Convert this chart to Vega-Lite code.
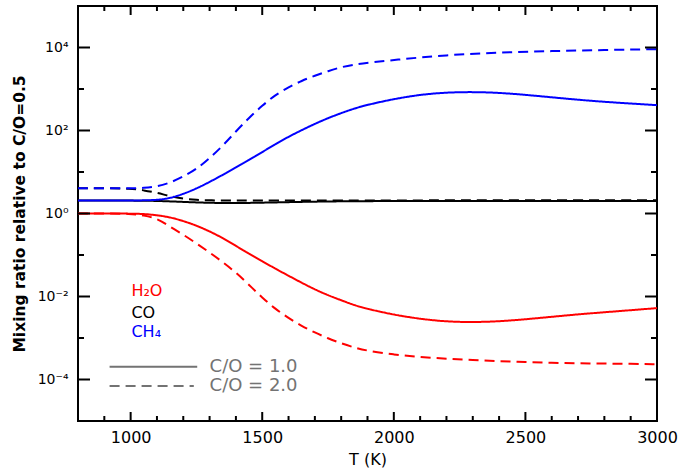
{
  "$schema": "https://vega.github.io/schema/vega-lite/v6.json",
  "width": 579,
  "height": 415,
  "autosize": {"type": "none"},
  "padding": {"left": 78, "top": 6, "right": 23, "bottom": 49},
  "background": "white",
  "config": {
    "view": {"stroke": "black", "strokeWidth": 2},
    "axis": {"grid": false, "domain": false, "ticks": false, "labelColor": "black", "titleColor": "black", "labelFont": "DejaVu Sans", "titleFont": "DejaVu Sans"}
  },
  "datasets": {
    "curves": [
      {"T": 800, "v": 2.05, "sp": "CO", "co": "1.0"},
      {"T": 900, "v": 2.05, "sp": "CO", "co": "1.0"},
      {"T": 1000, "v": 2.05, "sp": "CO", "co": "1.0"},
      {"T": 1100, "v": 2.02, "sp": "CO", "co": "1.0"},
      {"T": 1200, "v": 1.9, "sp": "CO", "co": "1.0"},
      {"T": 1300, "v": 1.8, "sp": "CO", "co": "1.0"},
      {"T": 1400, "v": 1.78, "sp": "CO", "co": "1.0"},
      {"T": 1500, "v": 1.82, "sp": "CO", "co": "1.0"},
      {"T": 1600, "v": 1.88, "sp": "CO", "co": "1.0"},
      {"T": 1700, "v": 1.93, "sp": "CO", "co": "1.0"},
      {"T": 1800, "v": 1.97, "sp": "CO", "co": "1.0"},
      {"T": 2000, "v": 2.0, "sp": "CO", "co": "1.0"},
      {"T": 2200, "v": 2.0, "sp": "CO", "co": "1.0"},
      {"T": 2500, "v": 2.0, "sp": "CO", "co": "1.0"},
      {"T": 2800, "v": 2.0, "sp": "CO", "co": "1.0"},
      {"T": 3000, "v": 2.0, "sp": "CO", "co": "1.0"},

      {"T": 800, "v": 4.05, "sp": "CO", "co": "2.0"},
      {"T": 900, "v": 4.05, "sp": "CO", "co": "2.0"},
      {"T": 1000, "v": 4.0, "sp": "CO", "co": "2.0"},
      {"T": 1050, "v": 3.63, "sp": "CO", "co": "2.0"},
      {"T": 1100, "v": 3.16, "sp": "CO", "co": "2.0"},
      {"T": 1150, "v": 2.6, "sp": "CO", "co": "2.0"},
      {"T": 1200, "v": 2.25, "sp": "CO", "co": "2.0"},
      {"T": 1250, "v": 2.12, "sp": "CO", "co": "2.0"},
      {"T": 1300, "v": 2.07, "sp": "CO", "co": "2.0"},
      {"T": 1400, "v": 2.05, "sp": "CO", "co": "2.0"},
      {"T": 1600, "v": 2.05, "sp": "CO", "co": "2.0"},
      {"T": 2000, "v": 2.07, "sp": "CO", "co": "2.0"},
      {"T": 2500, "v": 2.08, "sp": "CO", "co": "2.0"},
      {"T": 3000, "v": 2.09, "sp": "CO", "co": "2.0"},

      {"T": 800, "v": 2.05, "sp": "CH4", "co": "1.0"},
      {"T": 900, "v": 2.05, "sp": "CH4", "co": "1.0"},
      {"T": 1000, "v": 2.05, "sp": "CH4", "co": "1.0"},
      {"T": 1100, "v": 2.09, "sp": "CH4", "co": "1.0"},
      {"T": 1150, "v": 2.34, "sp": "CH4", "co": "1.0"},
      {"T": 1200, "v": 2.95, "sp": "CH4", "co": "1.0"},
      {"T": 1250, "v": 3.98, "sp": "CH4", "co": "1.0"},
      {"T": 1300, "v": 5.75, "sp": "CH4", "co": "1.0"},
      {"T": 1350, "v": 8.51, "sp": "CH4", "co": "1.0"},
      {"T": 1400, "v": 12.9, "sp": "CH4", "co": "1.0"},
      {"T": 1450, "v": 19.5, "sp": "CH4", "co": "1.0"},
      {"T": 1500, "v": 30.2, "sp": "CH4", "co": "1.0"},
      {"T": 1550, "v": 46.8, "sp": "CH4", "co": "1.0"},
      {"T": 1600, "v": 70.8, "sp": "CH4", "co": "1.0"},
      {"T": 1650, "v": 102, "sp": "CH4", "co": "1.0"},
      {"T": 1700, "v": 145, "sp": "CH4", "co": "1.0"},
      {"T": 1750, "v": 199, "sp": "CH4", "co": "1.0"},
      {"T": 1800, "v": 263, "sp": "CH4", "co": "1.0"},
      {"T": 1850, "v": 339, "sp": "CH4", "co": "1.0"},
      {"T": 1900, "v": 417, "sp": "CH4", "co": "1.0"},
      {"T": 2000, "v": 575, "sp": "CH4", "co": "1.0"},
      {"T": 2100, "v": 731, "sp": "CH4", "co": "1.0"},
      {"T": 2200, "v": 827, "sp": "CH4", "co": "1.0"},
      {"T": 2300, "v": 851, "sp": "CH4", "co": "1.0"},
      {"T": 2400, "v": 813, "sp": "CH4", "co": "1.0"},
      {"T": 2500, "v": 724, "sp": "CH4", "co": "1.0"},
      {"T": 2600, "v": 631, "sp": "CH4", "co": "1.0"},
      {"T": 2700, "v": 550, "sp": "CH4", "co": "1.0"},
      {"T": 2800, "v": 490, "sp": "CH4", "co": "1.0"},
      {"T": 2900, "v": 447, "sp": "CH4", "co": "1.0"},
      {"T": 3000, "v": 407, "sp": "CH4", "co": "1.0"},

      {"T": 800, "v": 4.05, "sp": "CH4", "co": "2.0"},
      {"T": 900, "v": 4.05, "sp": "CH4", "co": "2.0"},
      {"T": 1000, "v": 4.05, "sp": "CH4", "co": "2.0"},
      {"T": 1050, "v": 4.12, "sp": "CH4", "co": "2.0"},
      {"T": 1100, "v": 4.42, "sp": "CH4", "co": "2.0"},
      {"T": 1150, "v": 5.5, "sp": "CH4", "co": "2.0"},
      {"T": 1200, "v": 7.76, "sp": "CH4", "co": "2.0"},
      {"T": 1250, "v": 11.7, "sp": "CH4", "co": "2.0"},
      {"T": 1300, "v": 21.4, "sp": "CH4", "co": "2.0"},
      {"T": 1350, "v": 42.7, "sp": "CH4", "co": "2.0"},
      {"T": 1400, "v": 95.5, "sp": "CH4", "co": "2.0"},
      {"T": 1450, "v": 204, "sp": "CH4", "co": "2.0"},
      {"T": 1500, "v": 398, "sp": "CH4", "co": "2.0"},
      {"T": 1550, "v": 724, "sp": "CH4", "co": "2.0"},
      {"T": 1600, "v": 1100, "sp": "CH4", "co": "2.0"},
      {"T": 1650, "v": 1585, "sp": "CH4", "co": "2.0"},
      {"T": 1700, "v": 2089, "sp": "CH4", "co": "2.0"},
      {"T": 1750, "v": 2692, "sp": "CH4", "co": "2.0"},
      {"T": 1800, "v": 3388, "sp": "CH4", "co": "2.0"},
      {"T": 1850, "v": 3890, "sp": "CH4", "co": "2.0"},
      {"T": 1900, "v": 4266, "sp": "CH4", "co": "2.0"},
      {"T": 2000, "v": 5012, "sp": "CH4", "co": "2.0"},
      {"T": 2200, "v": 6607, "sp": "CH4", "co": "2.0"},
      {"T": 2400, "v": 7586, "sp": "CH4", "co": "2.0"},
      {"T": 2600, "v": 8222, "sp": "CH4", "co": "2.0"},
      {"T": 2800, "v": 8710, "sp": "CH4", "co": "2.0"},
      {"T": 3000, "v": 9120, "sp": "CH4", "co": "2.0"},

      {"T": 800, "v": 1.0, "sp": "H2O", "co": "1.0"},
      {"T": 900, "v": 1.0, "sp": "H2O", "co": "1.0"},
      {"T": 1000, "v": 0.995, "sp": "H2O", "co": "1.0"},
      {"T": 1050, "v": 0.977, "sp": "H2O", "co": "1.0"},
      {"T": 1100, "v": 0.912, "sp": "H2O", "co": "1.0"},
      {"T": 1150, "v": 0.813, "sp": "H2O", "co": "1.0"},
      {"T": 1200, "v": 0.661, "sp": "H2O", "co": "1.0"},
      {"T": 1250, "v": 0.513, "sp": "H2O", "co": "1.0"},
      {"T": 1300, "v": 0.372, "sp": "H2O", "co": "1.0"},
      {"T": 1350, "v": 0.257, "sp": "H2O", "co": "1.0"},
      {"T": 1400, "v": 0.166, "sp": "H2O", "co": "1.0"},
      {"T": 1450, "v": 0.107, "sp": "H2O", "co": "1.0"},
      {"T": 1500, "v": 0.0708, "sp": "H2O", "co": "1.0"},
      {"T": 1550, "v": 0.0468, "sp": "H2O", "co": "1.0"},
      {"T": 1600, "v": 0.0316, "sp": "H2O", "co": "1.0"},
      {"T": 1650, "v": 0.0214, "sp": "H2O", "co": "1.0"},
      {"T": 1700, "v": 0.0148, "sp": "H2O", "co": "1.0"},
      {"T": 1750, "v": 0.0107, "sp": "H2O", "co": "1.0"},
      {"T": 1800, "v": 0.00813, "sp": "H2O", "co": "1.0"},
      {"T": 1850, "v": 0.00617, "sp": "H2O", "co": "1.0"},
      {"T": 1900, "v": 0.00501, "sp": "H2O", "co": "1.0"},
      {"T": 2000, "v": 0.00363, "sp": "H2O", "co": "1.0"},
      {"T": 2100, "v": 0.00288, "sp": "H2O", "co": "1.0"},
      {"T": 2200, "v": 0.00248, "sp": "H2O", "co": "1.0"},
      {"T": 2300, "v": 0.0024, "sp": "H2O", "co": "1.0"},
      {"T": 2400, "v": 0.00251, "sp": "H2O", "co": "1.0"},
      {"T": 2500, "v": 0.00282, "sp": "H2O", "co": "1.0"},
      {"T": 2600, "v": 0.00324, "sp": "H2O", "co": "1.0"},
      {"T": 2700, "v": 0.00372, "sp": "H2O", "co": "1.0"},
      {"T": 2800, "v": 0.00417, "sp": "H2O", "co": "1.0"},
      {"T": 2900, "v": 0.00468, "sp": "H2O", "co": "1.0"},
      {"T": 3000, "v": 0.00525, "sp": "H2O", "co": "1.0"},

      {"T": 800, "v": 1.0, "sp": "H2O", "co": "2.0"},
      {"T": 900, "v": 1.0, "sp": "H2O", "co": "2.0"},
      {"T": 1000, "v": 0.99, "sp": "H2O", "co": "2.0"},
      {"T": 1050, "v": 0.912, "sp": "H2O", "co": "2.0"},
      {"T": 1100, "v": 0.759, "sp": "H2O", "co": "2.0"},
      {"T": 1150, "v": 0.479, "sp": "H2O", "co": "2.0"},
      {"T": 1200, "v": 0.309, "sp": "H2O", "co": "2.0"},
      {"T": 1250, "v": 0.191, "sp": "H2O", "co": "2.0"},
      {"T": 1300, "v": 0.115, "sp": "H2O", "co": "2.0"},
      {"T": 1350, "v": 0.0676, "sp": "H2O", "co": "2.0"},
      {"T": 1400, "v": 0.038, "sp": "H2O", "co": "2.0"},
      {"T": 1450, "v": 0.0191, "sp": "H2O", "co": "2.0"},
      {"T": 1500, "v": 0.00933, "sp": "H2O", "co": "2.0"},
      {"T": 1550, "v": 0.00501, "sp": "H2O", "co": "2.0"},
      {"T": 1600, "v": 0.00302, "sp": "H2O", "co": "2.0"},
      {"T": 1650, "v": 0.00195, "sp": "H2O", "co": "2.0"},
      {"T": 1700, "v": 0.00135, "sp": "H2O", "co": "2.0"},
      {"T": 1750, "v": 0.000977, "sp": "H2O", "co": "2.0"},
      {"T": 1800, "v": 0.000741, "sp": "H2O", "co": "2.0"},
      {"T": 1850, "v": 0.000589, "sp": "H2O", "co": "2.0"},
      {"T": 1900, "v": 0.00049, "sp": "H2O", "co": "2.0"},
      {"T": 2000, "v": 0.000398, "sp": "H2O", "co": "2.0"},
      {"T": 2100, "v": 0.000347, "sp": "H2O", "co": "2.0"},
      {"T": 2200, "v": 0.000316, "sp": "H2O", "co": "2.0"},
      {"T": 2300, "v": 0.000295, "sp": "H2O", "co": "2.0"},
      {"T": 2400, "v": 0.000275, "sp": "H2O", "co": "2.0"},
      {"T": 2500, "v": 0.000263, "sp": "H2O", "co": "2.0"},
      {"T": 2600, "v": 0.000251, "sp": "H2O", "co": "2.0"},
      {"T": 2700, "v": 0.000245, "sp": "H2O", "co": "2.0"},
      {"T": 2800, "v": 0.000242, "sp": "H2O", "co": "2.0"},
      {"T": 2900, "v": 0.000238, "sp": "H2O", "co": "2.0"},
      {"T": 3000, "v": 0.000234, "sp": "H2O", "co": "2.0"}
    ],
    "xmajor": [{"T": 1000}, {"T": 1500}, {"T": 2000}, {"T": 2500}],
    "xminor": [{"T": 900}, {"T": 1100}, {"T": 1200}, {"T": 1300}, {"T": 1400}, {"T": 1600}, {"T": 1700}, {"T": 1800}, {"T": 1900}, {"T": 2100}, {"T": 2200}, {"T": 2300}, {"T": 2400}, {"T": 2600}, {"T": 2700}, {"T": 2800}, {"T": 2900}],
    "ymajor": [{"v": 0.0001}, {"v": 0.01}, {"v": 1}, {"v": 100}, {"v": 10000}],
    "yminor": [{"v": 0.001}, {"v": 0.1}, {"v": 10}, {"v": 1000}],
    "legline": [
      {"T": 920, "v": 0.000204, "co": "1.0"},
      {"T": 1253, "v": 0.000204, "co": "1.0"},
      {"T": 920, "v": 0.0000697, "co": "2.0"},
      {"T": 1240, "v": 0.0000697, "co": "2.0"}
    ],
    "legspecies": [
      {"T": 1003, "v": 0.01358, "label": "H₂O", "sp": "H2O"},
      {"T": 1003, "v": 0.00411, "label": "CO", "sp": "CO"},
      {"T": 1003, "v": 0.001358, "label": "CH₄", "sp": "CH4"}
    ],
    "legratio": [
      {"T": 1300, "v": 0.000204, "label": "C/O = 1.0"},
      {"T": 1300, "v": 0.0000697, "label": "C/O = 2.0"}
    ]
  },
  "layer": [
    {
      "data": {"name": "xmajor"},
      "mark": {"type": "tick", "orient": "vertical", "thickness": 2, "size": 9, "yOffset": -4.5, "color": "black", "opacity": 1},
      "encoding": {
        "x": {
          "field": "T", "type": "quantitative",
          "scale": {"domain": [800, 3000], "nice": false, "zero": false},
          "axis": {
            "orient": "bottom",
            "values": [1000, 1500, 2000, 2500, 3000],
            "format": "d",
            "labelPadding": 8,
            "labelFontSize": 16,
            "labelFlush": false,
            "labelOverlap": false,
            "title": "T (K)",
            "titleFontSize": 16,
            "titleFontWeight": "normal",
            "titlePadding": 6
          }
        },
        "y": {
          "datum": 0.00001, "type": "quantitative",
          "scale": {"type": "log", "domain": [0.00001, 100000], "nice": false},
          "axis": {
            "orient": "left",
            "values": [0.0001, 0.01, 1, 100, 10000],
            "labelExpr": "datum.value == 10000 ? '10⁴' : datum.value == 100 ? '10²' : datum.value == 1 ? '10⁰' : datum.value == 0.01 ? '10⁻²' : '10⁻⁴'",
            "labelPadding": 10,
            "labelFontSize": 14,
            "labelFlush": false,
            "labelOverlap": false,
            "title": "Mixing ratio relative to C/O=0.5",
            "titleFontSize": 15.5,
            "titleFontWeight": "bold",
            "titlePadding": 10
          }
        }
      }
    },
    {
      "data": {"name": "curves"},
      "mark": {"type": "line", "strokeWidth": 2, "interpolate": "basis", "clip": true},
      "encoding": {
        "x": {"field": "T", "type": "quantitative"},
        "y": {"field": "v", "type": "quantitative"},
        "color": {"field": "sp", "type": "nominal", "scale": {"domain": ["CO", "CH4", "H2O"], "range": ["#000000", "#0000ff", "#ff0000"]}, "legend": null},
        "strokeDash": {"field": "co", "type": "nominal", "scale": {"domain": ["1.0", "2.0"], "range": [[1, 0], [10, 6]]}, "legend": null}
      }
    },
    {
      "data": {"name": "xminor"},
      "mark": {"type": "tick", "orient": "vertical", "thickness": 2, "size": 5, "yOffset": -2.5, "color": "black", "opacity": 1},
      "encoding": {"x": {"field": "T", "type": "quantitative"}, "y": {"datum": 0.00001, "type": "quantitative"}}
    },
    {
      "data": {"name": "xmajor"},
      "mark": {"type": "tick", "orient": "vertical", "thickness": 2, "size": 9, "yOffset": 4.5, "color": "black", "opacity": 1},
      "encoding": {"x": {"field": "T", "type": "quantitative"}, "y": {"datum": 100000, "type": "quantitative"}}
    },
    {
      "data": {"name": "xminor"},
      "mark": {"type": "tick", "orient": "vertical", "thickness": 2, "size": 5, "yOffset": 2.5, "color": "black", "opacity": 1},
      "encoding": {"x": {"field": "T", "type": "quantitative"}, "y": {"datum": 100000, "type": "quantitative"}}
    },
    {
      "data": {"name": "ymajor"},
      "mark": {"type": "tick", "orient": "horizontal", "thickness": 2, "size": 12, "xOffset": 6, "color": "black", "opacity": 1},
      "encoding": {"y": {"field": "v", "type": "quantitative"}, "x": {"datum": 800, "type": "quantitative"}}
    },
    {
      "data": {"name": "yminor"},
      "mark": {"type": "tick", "orient": "horizontal", "thickness": 2, "size": 6, "xOffset": 3, "color": "black", "opacity": 1},
      "encoding": {"y": {"field": "v", "type": "quantitative"}, "x": {"datum": 800, "type": "quantitative"}}
    },
    {
      "data": {"name": "ymajor"},
      "mark": {"type": "tick", "orient": "horizontal", "thickness": 2, "size": 12, "xOffset": -6, "color": "black", "opacity": 1},
      "encoding": {"y": {"field": "v", "type": "quantitative"}, "x": {"datum": 3000, "type": "quantitative"}}
    },
    {
      "data": {"name": "yminor"},
      "mark": {"type": "tick", "orient": "horizontal", "thickness": 2, "size": 6, "xOffset": -3, "color": "black", "opacity": 1},
      "encoding": {"y": {"field": "v", "type": "quantitative"}, "x": {"datum": 3000, "type": "quantitative"}}
    },
    {
      "data": {"name": "legline"},
      "mark": {"type": "line", "strokeWidth": 2, "color": "#737373"},
      "encoding": {
        "x": {"field": "T", "type": "quantitative"},
        "y": {"field": "v", "type": "quantitative"},
        "strokeDash": {"field": "co", "type": "nominal", "legend": null}
      }
    },
    {
      "data": {"name": "legspecies"},
      "mark": {"type": "text", "align": "left", "baseline": "middle", "fontSize": 16, "font": "DejaVu Sans"},
      "encoding": {
        "x": {"field": "T", "type": "quantitative"},
        "y": {"field": "v", "type": "quantitative"},
        "text": {"field": "label"},
        "color": {"field": "sp", "type": "nominal", "legend": null}
      }
    },
    {
      "data": {"name": "legratio"},
      "mark": {"type": "text", "align": "left", "baseline": "middle", "fontSize": 18, "font": "DejaVu Sans", "color": "#737373"},
      "encoding": {
        "x": {"field": "T", "type": "quantitative"},
        "y": {"field": "v", "type": "quantitative"},
        "text": {"field": "label"}
      }
    }
  ]
}
